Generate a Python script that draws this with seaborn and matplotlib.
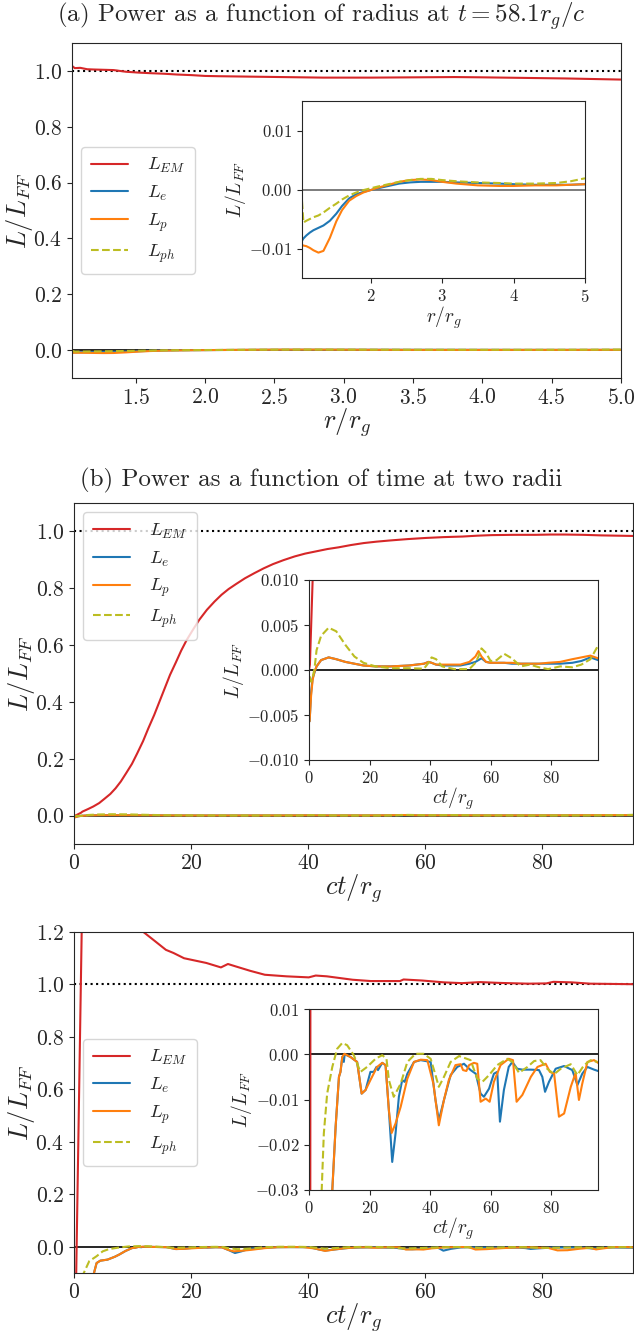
import matplotlib
matplotlib.use("Agg")
import matplotlib.pyplot as plt
import seaborn as sns

# ---- panel (a): power vs radius at t = 58.1 r_g/c ----
r_a = [1.04, 1.06, 1.1, 1.15, 1.2, 1.27, 1.34, 1.43, 1.52, 1.6, 1.7, 1.8, 1.9, 2.0, 2.1,
       2.25, 2.4, 2.55, 2.7, 2.85, 3.0, 3.2, 3.5, 3.8, 4.0, 4.3, 4.6, 4.8, 5.0]
L_em_a = [1.018, 1.010, 1.011, 1.006, 1.005, 1.004, 1.003, 0.997, 0.994, 0.992, 0.990, 0.987,
          0.985, 0.982, 0.981, 0.980, 0.979, 0.978, 0.977, 0.976, 0.976, 0.976, 0.977, 0.978,
          0.977, 0.975, 0.973, 0.971, 0.969]
L_e_a = [-0.0087, -0.0083, -0.0078, -0.0073, -0.0069, -0.0065, -0.0061, -0.0053, -0.0041,
         -0.0028, -0.0015, -0.0008, -0.0004, -0.0001, 0.0002, 0.0006, 0.0010, 0.0012, 0.0013,
         0.0013, 0.0013, 0.0012, 0.0011, 0.0010, 0.0009, 0.0008, 0.0008, 0.0008, 0.0009]
L_p_a = [-0.0094, -0.0095, -0.0096, -0.0099, -0.0103, -0.0107, -0.0104, -0.0082, -0.0054,
         -0.0035, -0.0019, -0.0011, -0.0005, -0.0001, 0.0003, 0.0008, 0.0013, 0.0016, 0.0017,
         0.0016, 0.0013, 0.0010, 0.0007, 0.0006, 0.0006, 0.0007, 0.0007, 0.0008, 0.0009]
L_ph_a = [-0.0020, -0.0056, -0.0053, -0.0050, -0.0047, -0.0044, -0.0039, -0.0031, -0.0024,
          -0.0017, -0.0010, -0.0005, -0.0001, 0.0002, 0.0005, 0.0009, 0.0013, 0.0016, 0.0018,
          0.0018, 0.0016, 0.0014, 0.0012, 0.0011, 0.0010, 0.0010, 0.0011, 0.0014, 0.0019]

# ---- panel (b): power vs time ----
t_em_b = [0, 0.3, 1.2, 1.44, 2.4, 3.3, 4.3, 5.2, 6.2, 7.1, 8.0, 8.9, 9.9, 10.8, 11.8, 12.7,
          13.7, 14.6, 15.5, 16.4, 17.4, 18.3, 19.2, 20.2, 21.4, 22.7, 24.0, 25.2, 26.4, 27.7,
          29.2, 30.8, 32.4, 34, 35.8, 37.7, 39.5, 41.4, 43.3, 45.2, 47.3, 49.5, 51.7, 53.9,
          57.0, 60.1, 63.2, 66.4, 68.9, 71.4, 75.1, 78.9, 81.4, 83.9, 87.0, 90.1, 92.8, 95.6]
L_em_b = [0.0, 0.0006, 0.010, 0.014, 0.023, 0.032, 0.044, 0.059, 0.076, 0.096, 0.120, 0.149,
          0.182, 0.219, 0.262, 0.307, 0.354, 0.401, 0.448, 0.495, 0.539, 0.580, 0.616, 0.650,
          0.689, 0.724, 0.753, 0.777, 0.797, 0.815, 0.835, 0.853, 0.870, 0.885, 0.899, 0.912,
          0.922, 0.930, 0.938, 0.944, 0.952, 0.959, 0.964, 0.968, 0.973, 0.977, 0.980, 0.982,
          0.985, 0.987, 0.988, 0.988, 0.989, 0.989, 0.988, 0.986, 0.985, 0.984]
t_b = [0.2, 0.7, 1.2, 1.8, 2.5, 4, 6.5, 9, 12, 15, 18, 22, 27, 33, 38, 39.5, 40.5, 42, 44, 48,
       50, 53, 55, 56, 57, 58.5, 60, 62, 64.5, 67, 70, 73, 76, 79, 83, 87, 90, 93, 95.5]
L_e_b = [-0.0057, -0.0025, -0.0009, -0.0003, 0.0004, 0.0011, 0.0014, 0.0012, 0.0009, 0.0007,
         0.0005, 0.0004, 0.0004, 0.0005, 0.0007, 0.0009, 0.0008, 0.0006, 0.0005, 0.0005,
         0.0005, 0.0007, 0.0009, 0.0011, 0.0013, 0.0009, 0.0008, 0.0008, 0.0008, 0.0007,
         0.0007, 0.0007, 0.0007, 0.0007, 0.0007, 0.0008, 0.0010, 0.0014, 0.0011]
L_p_b = [-0.0057, -0.0028, -0.0011, -0.0002, 0.0004, 0.0011, 0.0014, 0.0012, 0.0009, 0.0007,
         0.0005, 0.0004, 0.0004, 0.0005, 0.0007, 0.0009, 0.0008, 0.0006, 0.0006, 0.0006,
         0.0006, 0.0009, 0.0015, 0.0021, 0.0015, 0.0009, 0.0008, 0.0008, 0.0008, 0.0008,
         0.0007, 0.0007, 0.0007, 0.0008, 0.0009, 0.0012, 0.0014, 0.0016, 0.0013]
L_ph_b = [-0.0007, -0.0013, -0.0008, 0.0001, 0.0022, 0.0038, 0.0047, 0.0043, 0.0028, 0.0015,
          0.0008, 0.0004, 0.0002, 0.0002, 0.00015, 0.0008, 0.0014, 0.0012, 0.0004, 0.0001,
          0.0001, 0.0001, 0.0008, 0.0015, 0.0024, 0.0019, 0.0010, 0.0011, 0.0018, 0.0013,
          0.0004, 0.0006, 0.0003, 0.0001, 0.0004, 0.0003, 0.0006, 0.0012, 0.0027]

# ---- panel (c): power vs time, second radius ----
t_em_c = [0.2, 1.6, 3, 6, 9, 11.86, 13.9, 15.7, 17, 18.8, 22.6, 25.1, 26.3, 27.6, 30.1, 32.6,
          36.3, 40.1, 41.3, 43.2, 47.6, 50.7, 55.7, 56.3, 59.5, 63.2, 66.3, 69.4, 72.6, 77.6,
          80.7, 81.9, 85, 88.2, 95.5]
L_em_c = [-0.35, 1.6, 2.2, 1.7, 1.35, 1.2, 1.164, 1.132, 1.12, 1.10, 1.082, 1.065, 1.078,
          1.069, 1.052, 1.037, 1.031, 1.027, 1.034, 1.031, 1.018, 1.013, 1.013, 1.019, 1.015,
          1.008, 1.005, 1.009, 1.006, 1.003, 1.004, 1.010, 1.008, 1.003, 1.001]
t_p_c = [3.3, 3.86, 4.5, 5.73, 6.98, 7.7, 8.8, 9.9, 10.4, 11, 11.7, 13.7, 15.9, 17.4, 18.7,
         20.3, 22.5, 24.2, 25.3, 26.4, 27.3, 28.6, 30.3, 32.5, 34.7, 36.9, 39.1, 41.1, 42.9,
         44.6, 46.2, 48.4, 50.1, 50.9, 52, 52.9, 54.5, 55.6, 56.7, 58.4, 59.7, 61.1, 63.3, 66,
         67.4, 68.6, 70.5, 73.3, 75.5, 78.2, 79.6, 81, 82.6, 84.3, 86.5, 88.1, 89.2, 90.3, 92,
         94.2, 95.5]
L_p_c = [-0.11, -0.062, -0.053, -0.049, -0.038, -0.030, -0.016, -0.005, -0.0039, -0.0006,
         0.0001, -0.0006, -0.0017, -0.0087, -0.0079, -0.0057, -0.0028, -0.0019, -0.0024,
         -0.0124, -0.0174, -0.0153, -0.0116, -0.0054, -0.0017, -0.0012, -0.0013, -0.0065,
         -0.0157, -0.0101, -0.0057, -0.0024, -0.0022, -0.0035, -0.0037, -0.0024, -0.0019,
         -0.0021, -0.0105, -0.0098, -0.0105, -0.0061, -0.0024, -0.0010, -0.0013, -0.0105,
         -0.0090, -0.0050, -0.0028, -0.0021, -0.0039, -0.0043, -0.0138, -0.0131, -0.0072,
         -0.0041, -0.0101, -0.0065, -0.0017, -0.0013, -0.0019]
t_e_c = [3.3, 3.86, 4.5, 5.73, 6.98, 7.7, 8.8, 9.9, 10.4, 11, 11.5, 11.8, 13.7, 15.9, 17.4,
         18.7, 20.3, 21.4, 22.3, 22.8, 24.2, 25.3, 26.4, 27.5, 28.6, 29.7, 30.8, 31.6, 32.5,
         34.7, 36.9, 40.2, 41.8, 42.9, 44.6, 46.8, 49, 51.2, 53.4, 55.1, 56.7, 57.8, 59.5, 61.1,
         62.2, 63.1, 64.4, 66, 67.2, 68.8, 70.5, 73.3, 76, 77.1, 78, 79.3, 81.5, 84.3, 87, 88.7,
         90.3, 92, 94.2, 95.5]
L_e_c = [-0.11, -0.062, -0.053, -0.049, -0.038, -0.030, -0.016, -0.005, -0.0039, -0.0006,
         -0.0017, 0.0000, -0.0006, -0.0017, -0.0087, -0.0079, -0.0039, -0.0039, -0.0028,
         -0.0035, -0.0019, -0.0024, -0.0124, -0.0238, -0.0175, -0.0094, -0.0057, -0.0061,
         -0.0043, -0.0017, -0.0013, -0.0017, -0.0101, -0.0146, -0.0101, -0.0046, -0.0028,
         -0.0021, -0.0035, -0.0043, -0.0087, -0.0094, -0.0076, -0.0043, -0.0039, -0.0149,
         -0.0079, -0.0028, -0.0017, -0.0032, -0.0034, -0.0034, -0.0035, -0.0050, -0.0083,
         -0.0061, -0.0032, -0.0026, -0.0035, -0.0068, -0.0043, -0.0028, -0.0034, -0.0037]
t_ph_c = [1.5, 1.67, 2.6, 3.86, 4.9, 6.0, 7.7, 9.3, 11, 12.6, 14.8, 17, 19.2, 22, 24.2, 25.6,
          26.4, 28, 30.3, 32.5, 35.2, 37.9, 40.2, 41.8, 42.9, 44.6, 46.8, 49.6, 53.4, 55.6,
          57.3, 59.5, 62.2, 65.5, 67.2, 69.4, 72.2, 74.4, 76.5, 78.7, 81, 83.2, 86.5, 88.7,
          90.9, 93.1, 95.3]
L_ph_c = [-0.12, -0.10, -0.055, -0.036, -0.0175, -0.0087, -0.0028, 0.0012, 0.0025, 0.0020,
          -0.0002, -0.0039, -0.0028, -0.0010, -0.0002, -0.0010, -0.0057, -0.0094, -0.0065,
          -0.0017, 0.0001, 0.0001, -0.0010, -0.0046, -0.0072, -0.0050, -0.0017, -0.0004,
          -0.0013, -0.0054, -0.0061, -0.0046, -0.0024, -0.0010, -0.0017, -0.0041, -0.0028,
          -0.0015, -0.0013, -0.0032, -0.0044, -0.0032, -0.0022, -0.0046, -0.0024, -0.0013,
          -0.0017]

labels = ["$L_{EM}$", "$L_e$", "$L_p$", "$L_{ph}$"]
colors = ["#d62728", "#1f77b4", "#ff7f0e", "#bcbd22"]

sns.set_style("ticks")
plt.rcParams["font.family"] = ["serif"]
plt.rcParams["font.serif"] = ["cmr10", "DejaVu Serif"]
plt.rcParams["mathtext.fontset"] = "cm"
plt.rcParams["axes.formatter.use_mathtext"] = True
plt.rcParams["axes.unicode_minus"] = False
plt.rcParams["axes.edgecolor"] = "0.15"
plt.rcParams["xtick.color"] = "0.15"
plt.rcParams["ytick.color"] = "0.15"

W, H = 634, 1334
fig = plt.figure(figsize=(W / 100, H / 100), dpi=100)


def box(left, top, right, bottom):
    return [left / W, 1 - bottom / H, (right - left) / W, (bottom - top) / H]


def draw(ax, series, label=True, lw=1.5):
    for (x, y), lab, col in zip(series, labels, colors):
        sns.lineplot(x=x, y=y, ax=ax, color=col, lw=lw, errorbar=None,
                     linestyle="--" if lab == "$L_{ph}$" else "-",
                     label=lab if label else None, legend=False)


def panel(rect, inset_rect, series, xlim, ylim, yticks, xticks, xlabel,
          in_ylim, in_yticks, in_xticks, legend_loc, zero_color):
    ax = fig.add_axes(box(*rect))
    ax.axhline(0, color="k", lw=1.2, zorder=1)
    ax.axhline(1, color="k", ls=":", lw=1.5, zorder=1)
    draw(ax, series)
    ax.set_xlim(xlim)
    ax.set_ylim(ylim)
    ax.set_yticks(yticks)
    ax.set_xticks(xticks)
    ax.tick_params(labelsize=15.5)
    ax.set_xlabel(xlabel, fontsize=19, labelpad=-1)
    ax.set_ylabel("$L/L_{FF}$", fontsize=19, labelpad=-1)
    ax.legend(loc=legend_loc, fontsize=13.5, handlelength=2.0, borderpad=0.5,
              labelspacing=0.45, handletextpad=1.0)

    ins = fig.add_axes(box(*inset_rect))
    ins.axhline(0, color=zero_color, lw=1.2, zorder=1)
    draw(ins, series, label=False)
    ins.set_xlim(xlim)
    ins.set_ylim(in_ylim)
    ins.set_yticks(in_yticks)
    ins.set_xticks(in_xticks)
    ins.tick_params(labelsize=12)
    ins.set_xlabel(xlabel, fontsize=14, labelpad=0)
    ins.set_ylabel("$L/L_{FF}$", fontsize=14, labelpad=1)
    return ax, ins


series_a = [(r_a, L_em_a), (r_a, L_e_a), (r_a, L_p_a), (r_a, L_ph_a)]
series_b = [(t_em_b, L_em_b), (t_b, L_e_b), (t_b, L_p_b), (t_b, L_ph_b)]
series_c = [(t_em_c, L_em_c), (t_e_c, L_e_c), (t_p_c, L_p_c), (t_ph_c, L_ph_c)]

panel((72, 43, 621, 378), (302, 101, 585, 278), series_a, (1.04, 5.0), (-0.1, 1.1),
      [0, 0.2, 0.4, 0.6, 0.8, 1.0], [1.5, 2.0, 2.5, 3.0, 3.5, 4.0, 4.5, 5.0], "$r/r_g$",
      (-0.015, 0.015), [-0.01, 0, 0.01], [2, 3, 4, 5], "center left", "0.4")
panel((74, 503, 633, 844), (309, 580, 598, 760), series_b, (0, 95.5), (-0.1, 1.1),
      [0, 0.2, 0.4, 0.6, 0.8, 1.0], [0, 20, 40, 60, 80], "$ct/r_g$",
      (-0.01, 0.01), [-0.01, -0.005, 0, 0.005, 0.01], [0, 20, 40, 60, 80],
      "upper left", "k")
panel((74, 932, 633, 1273), (309, 1009, 598, 1190), series_c, (0, 95.5), (-0.1, 1.2),
      [0, 0.2, 0.4, 0.6, 0.8, 1.0, 1.2], [0, 20, 40, 60, 80], "$ct/r_g$",
      (-0.03, 0.01), [-0.03, -0.02, -0.01, 0, 0.01], [0, 20, 40, 60, 80],
      "center left", "k")

fig.text(321 / W, 1 - 16 / H, "(a) Power as a function of radius at $t = 58.1r_g/c$",
         ha="center", va="center", fontsize=18)
fig.text(321 / W, 1 - 480 / H, "(b) Power as a function of time at two radii",
         ha="center", va="center", fontsize=18)

fig.savefig("out.png", dpi=100)
